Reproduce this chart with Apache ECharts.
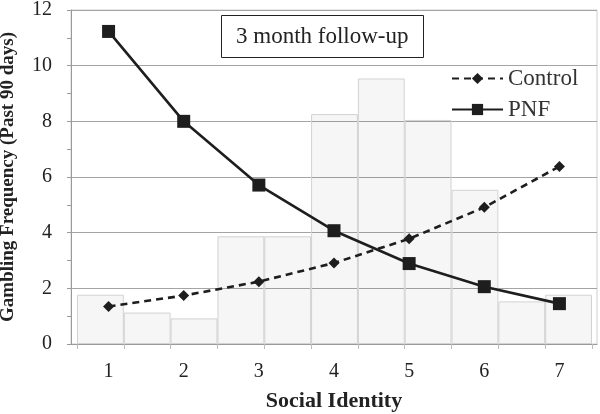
<!DOCTYPE html>
<html>
<head>
<meta charset="utf-8">
<script src="https://cdn.jsdelivr.net/npm/echarts@6/dist/echarts.min.js"></script>
<style>html,body{margin:0;padding:0;background:#fff;}#c{width:600px;height:414px;}</style>
</head>
<body>
<div id="c"></div>
<script>
const categories = ['1','2','3','4','5','6','7'];
const controlValues = [1.35, 1.74, 2.24, 2.91, 3.78, 4.91, 6.38];
const pnfValues = [11.23, 8.0, 5.71, 4.07, 2.89, 2.06, 1.45];
const histBins = ['b1','b2','b3','b4','b5','b6','b7','b8','b9','b10','b11'];
const histValues = [1.77, 1.13, 0.92, 3.87, 3.87, 8.26, 9.54, 8.05, 5.54, 1.53, 1.77];
const yTicks = [0, 2, 4, 6, 8, 10, 12];

const serif = 'Liberation Serif';
const chart = echarts.init(document.getElementById('c'));
chart.setOption({
  animation: false,
  backgroundColor: '#fff',
  title: {
    text: '3 month follow-up',
    left: 221, top: 15,
    padding: [9, 15, 9, 15],
    borderColor: '#222', borderWidth: 1,
    textStyle: { fontFamily: serif, fontSize: 23, lineHeight: 25, fontWeight: 'normal', color: '#222' }
  },
  legend: {
    orient: 'vertical',
    left: 451, top: 67, padding: 0,
    itemWidth: 51, itemHeight: 14, itemGap: 8,
    textStyle: { fontFamily: serif, fontSize: 23, lineHeight: 20, color: '#333' },
    data: ['Control', 'PNF']
  },
  grid: [
    { left: 71, right: 3, top: 10, bottom: 70, outerBoundsMode: 'none', containLabel: false,
      show: true, borderColor: '#cfcfcf', borderWidth: 1, backgroundColor: 'transparent' },
    { left: 77, right: 8, top: 10, bottom: 70, outerBoundsMode: 'none', containLabel: false }
  ],
  xAxis: [
    {
      type: 'category', gridIndex: 0, data: categories,
      name: 'Social Identity', nameLocation: 'middle', nameGap: 46,
      nameTextStyle: { fontFamily: serif, fontSize: 22, fontWeight: 'bold', color: '#222' },
      axisLine: { lineStyle: { color: '#9a9a9a', width: 1 } },
      axisTick: { show: false },
      axisLabel: { fontFamily: serif, fontSize: 20, color: '#222', margin: 18 }
    },
    {
      type: 'category', gridIndex: 1, data: histBins,
      axisLine: { show: false },
      axisTick: { show: true, length: 5, lineStyle: { color: '#bdbdbd' } },
      axisLabel: { show: false }
    }
  ],
  yAxis: [
    {
      type: 'value', gridIndex: 0, min: 0, max: 12, interval: 2,
      name: 'Gambling Frequency (Past 90 days)', nameLocation: 'middle', nameGap: 53,
      nameTextStyle: { fontFamily: serif, fontSize: 19, fontWeight: 'bold', color: '#222' },
      axisLine: { show: true, lineStyle: { color: '#9a9a9a', width: 1 } },
      axisTick: { show: true, length: 4, lineStyle: { color: '#9a9a9a' } },
      minorTick: { show: true, splitNumber: 2, length: 4, lineStyle: { color: '#9a9a9a' } },
      splitLine: { show: true, lineStyle: { color: '#a4a4a4', width: 1 } },
      axisLabel: {
        fontFamily: serif, fontSize: 20, color: '#222', margin: 19,
        formatter: v => yTicks.includes(v) ? String(v) : ''
      }
    },
    {
      type: 'value', gridIndex: 1, min: 0, max: 12, interval: 2,
      show: false
    }
  ],
  series: [
    {
      name: 'hist', type: 'bar', xAxisIndex: 1, yAxisIndex: 1,
      data: histValues, barCategoryGap: '0%', z: 1,
      itemStyle: { color: 'rgba(0,0,0,0.035)', borderColor: '#d2d2d2', borderWidth: 1 },
      silent: true
    },
    {
      name: 'Control', type: 'line', xAxisIndex: 0, yAxisIndex: 0,
      data: controlValues, z: 5,
      symbol: 'diamond', symbolSize: 11,
      lineStyle: { color: '#1e1e1e', width: 2.6, type: [7, 5] },
      itemStyle: { color: '#1e1e1e' }
    },
    {
      name: 'PNF', type: 'line', xAxisIndex: 0, yAxisIndex: 0,
      data: pnfValues, z: 6,
      symbol: 'rect', symbolSize: 13,
      lineStyle: { color: '#1e1e1e', width: 2.6, type: 'solid' },
      itemStyle: { color: '#1e1e1e' }
    }
  ]
});
</script>
</body>
</html>
